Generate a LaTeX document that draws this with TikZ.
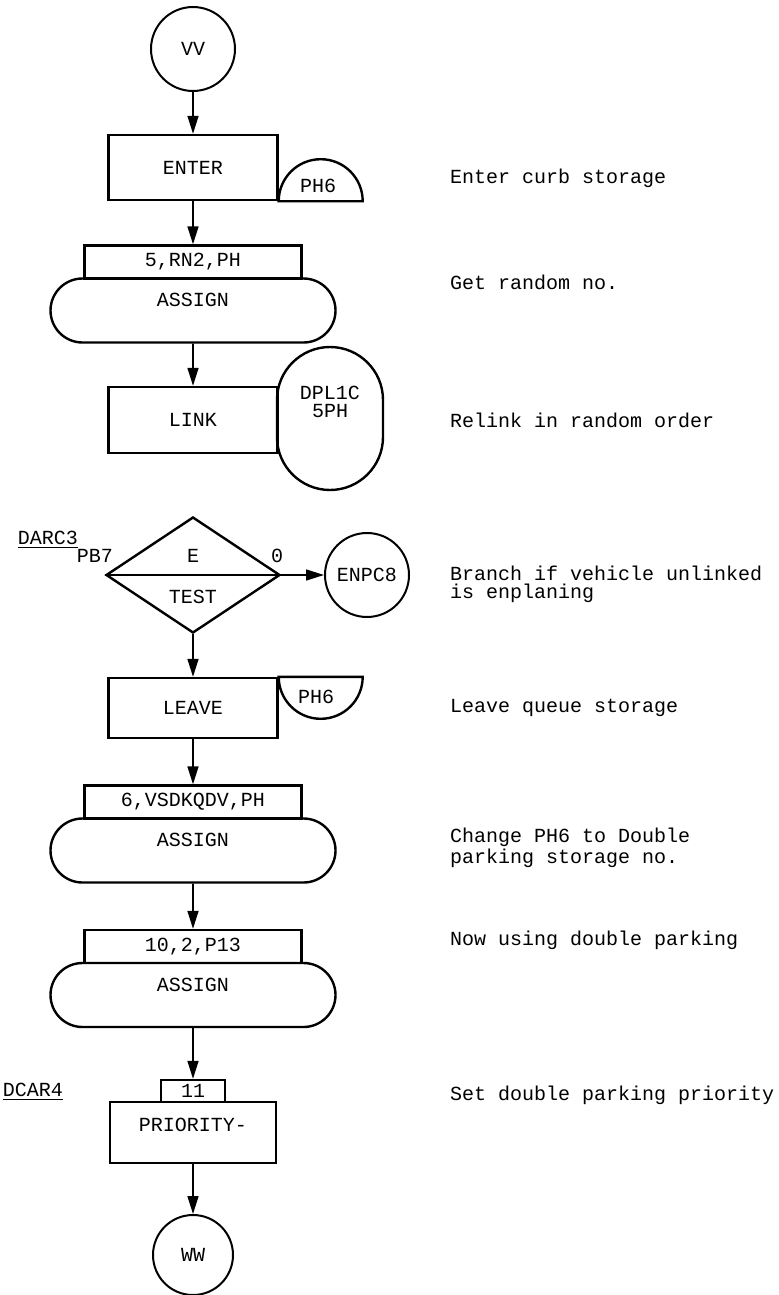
\documentclass[tikz,border=0pt]{standalone}
\usepackage{fontspec}
\setmainfont{Liberation Mono}
\usetikzlibrary{shapes.geometric,shapes.misc,arrows.meta}

\tikzset{
  boxline/.style={line width=1.2pt},
  blockbox/.style={draw,boxline,rectangle,minimum width=84.5pt,minimum height=32.5pt,inner sep=0pt},
  headbox/.style={draw,boxline,rectangle,minimum width=108.5pt,minimum height=16.5pt,inner sep=0pt},
  stadium/.style={draw,boxline,rounded rectangle,minimum width=142.5pt,minimum height=32pt,inner sep=0pt,text height=6pt,text depth=10pt},
  termnode/.style={draw,line width=1pt,circle,minimum size=42pt,inner sep=0pt},
  flow/.style={line width=0.8pt,-{Triangle[length=9pt,width=5.5pt]}},
}

\begin{document}
\begin{tikzpicture}[x=0.5pt,y=-0.5pt,font=\fontsize{10}{9}\selectfont]
\useasboundingbox (0,0) rectangle (779,1295);
% main column
\node[termnode] (vv) at (193,49) {VV};
\node[blockbox] (enter) at (193,167.5) {ENTER};
\draw[boxline] (enter.south east) arc[start angle=180,end angle=0,radius=21pt] -- cycle;
\node (phA) at (318,186) {PH6};
\foreach \nm/\yy/\arg in {A/262/{5,RN2,PH},B/802/{6,VSDKQDV,PH},C/946.5/{10,2,P13}}{
  \node[headbox] (hd\nm) at (193,\yy) {\arg};
  \node[stadium] (as\nm) at (193,\yy+48.5) {ASSIGN};}
\node[blockbox,minimum height=33pt] (link) at (193,420) {LINK};
\draw[boxline] (277,400) arc[start angle=180,end angle=0,radius=26.5pt] -- (383,437)
  arc[start angle=0,end angle=-180,radius=26.5pt] -- cycle;
\node[align=center] (dpl) at (330,402) {DPL1C\\5PH};
% test block
\node[diamond,draw,boxline,minimum width=87pt,minimum height=58pt,inner sep=0pt] (test) at (193,575) {};
\draw[boxline] (test.west) -- (test.east);
\node (testE) at (193,556) {E};
\node (testT) at (193,597) {TEST};
\node (testZ) at (277,556) {0};
\node (pb) at (95,556) {PB7};
\node (darc) at (48,540) {\underline{DARC3}};
\node[termnode] (enpc) at (367,575) {ENPC8};
\node[blockbox,minimum height=30pt] (leave) at (193,708) {LEAVE};
\draw[boxline] (leave.north east) arc[start angle=180,end angle=360,radius=21pt] -- cycle;
\node (phB) at (316,697) {PH6};
\node[headbox,minimum width=32pt,minimum height=11pt] (hdD) at (193,1091) {11};
\node[blockbox,minimum width=83pt,minimum height=30.5pt,text height=6pt,text depth=7pt] (prio) at (193,1132.5) {PRIORITY-};
\node (dcar) at (33,1092) {\underline{DCAR4}};
\node[termnode,minimum size=40pt] (ww) at (193,1255) {WW};
% connectors
\draw[flow] (vv) -- (enter);
\draw[flow] (enter) -- (hdA);
\draw[flow] (asA) -- (link);
\draw[flow] (test) -- (enpc);
\draw[flow] (test) -- (leave);
\draw[flow] (leave) -- (hdB);
\draw[flow] (asB) -- (hdC);
\draw[flow] (asC) -- (hdD);
\draw[flow] (prio) -- (ww);
% remarks
\foreach \yy/\note in {178/{Enter curb storage},282/{Get random no.},420/{Relink in random order},
  708/{Leave queue storage},940/{Now using double parking},1095/{Set double parking priority}}{
  \node[anchor=west] (note\yy) at (443,\yy) {\note};}
\node[anchor=west,align=left] (noteBr) at (443,584) {Branch if vehicle unlinked\\is enplaning};
\node[anchor=west,align=left] (noteCh) at (443,848) {Change PH6 to Double\\parking storage no.};
\end{tikzpicture}
\end{document}
